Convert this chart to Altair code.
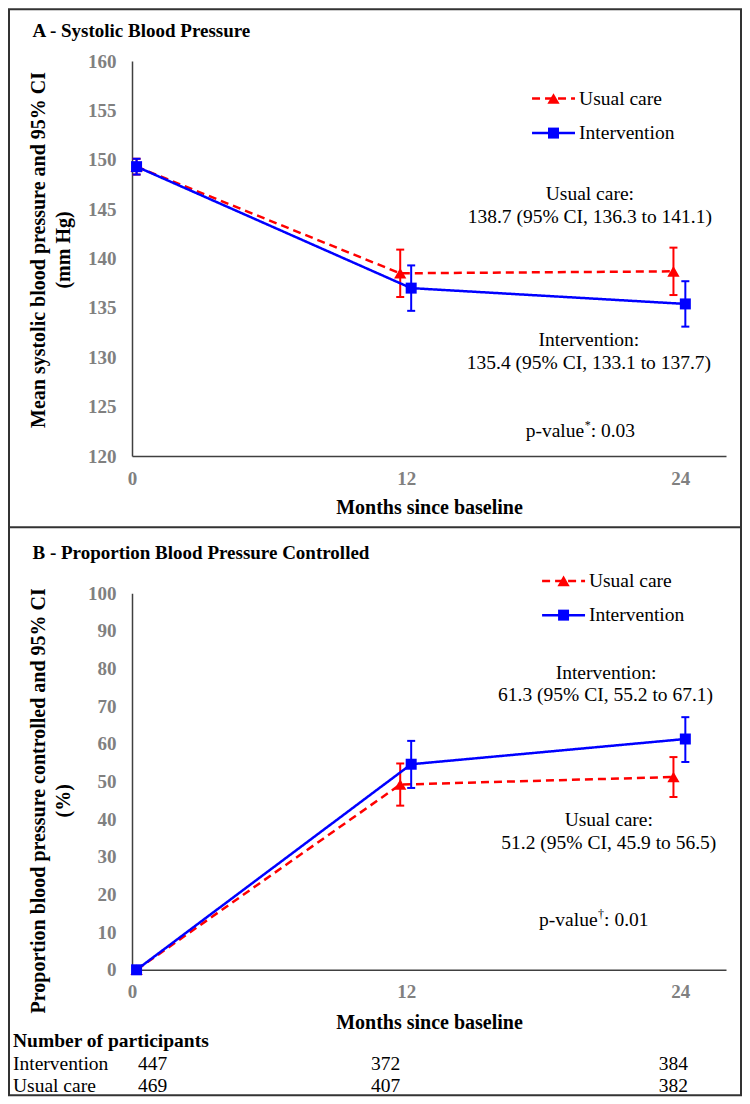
import altair as alt
import pandas as pd

# ---------------- data ----------------
months_uc = [0.2, 11.74, 23.70]
months_iv = [0.2, 12.22, 24.22]

sbp_uc = [149.3, 138.5, 138.7]
sbp_uc_lo = [148.5, 136.1, 136.3]
sbp_uc_hi = [150.1, 140.9, 141.1]
sbp_iv = [149.3, 137.0, 135.4]
sbp_iv_lo = [148.5, 134.7, 133.1]
sbp_iv_hi = [150.1, 139.3, 137.7]

ctl_uc = [0.0, 49.2, 51.2]
ctl_uc_lo = [0.0, 43.6, 45.9]
ctl_uc_hi = [0.0, 54.8, 56.5]
ctl_iv = [0.0, 54.6, 61.3]
ctl_iv_lo = [0.0, 48.3, 55.2]
ctl_iv_hi = [0.0, 60.8, 67.1]

x_ticks = [0, 12, 24]
sbp_ticks = [120, 125, 130, 135, 140, 145, 150, 155, 160]
ctl_ticks = [0, 10, 20, 30, 40, 50, 60, 70, 80, 90, 100]

series_names = ["Usual care", "Intervention"]
n_iv = [447, 372, 384]
n_uc = [469, 407, 382]
n_month = [0.9, 11.1, 23.7]

top_notes = ["Usual care:", "138.7 (95% CI, 136.3 to 141.1)",
             "Intervention:", "135.4 (95% CI, 133.1 to 137.7)"]
bot_notes = ["Intervention:", "61.3 (95% CI, 55.2 to 67.1)",
             "Usual care:", "51.2 (95% CI, 45.9 to 56.5)"]
top_pval = ["p-value", "*", ": 0.03"]
bot_pval = ["p-value", "\u2020", ": 0.01"]

# ---------------- layout / style ----------------
FONT = "Liberation Serif"
RED = "#FF0000"
BLUE = "#0000FF"
GREY = "#808080"
AX = "#404040"
W = 594
H_TOP = 395
H_BOT = 376.5

top_note_pos = [(20.04, 146.5), (20.04, 144.2), (20.0, 131.7), (20.0, 129.4)]
bot_note_pos = [(20.75, 78.8), (20.73, 72.9), (20.87, 39.7), (20.87, 33.6)]
top_pval_pos = (19.79, 122.5)
bot_pval_pos = (20.38, 13.1)
top_legend = dict(x1=17.51, x2=19.39, xm=18.45, xt=19.57, ys=[156.2, 152.7])
bot_legend = dict(x1=17.95, x2=19.83, xm=18.89, xt=20.0, ys=[103.3, 94.2])

one = pd.DataFrame({"k": [0]})


def panel(uc, iv, ydom, yticks, ytitle, title_y, legend, notes, note_pos,
          pval, pval_pos, panel_title, panel_title_y, xtitle_y):
    xscale = alt.Scale(domain=[0, 26], nice=False, zero=False)
    yscale = alt.Scale(domain=ydom, nice=False, zero=False)
    xax = alt.Axis(values=x_ticks, title="Months since baseline", titleFont=FONT,
                   titleFontSize=20, titleFontWeight="bold", titleColor="black",
                   titleY=xtitle_y, titleBaseline="middle", labelFont=FONT,
                   labelFontSize=19, labelFontWeight="bold", labelColor=GREY,
                   labelPadding=13, ticks=False, grid=False, domainColor=AX,
                   domainWidth=1.5, labelFlush=False)
    yax = alt.Axis(values=yticks, title=ytitle, titleFont=FONT, titleFontSize=20,
                   titleFontWeight="bold", titleColor="black", titleX=-94,
                   titleY=title_y, titleAngle=270, titleBaseline="middle",
                   titleAlign="center", titleLineHeight=25, labelFont=FONT,
                   labelFontSize=19, labelFontWeight="bold", labelColor=GREY,
                   labelPadding=16, ticks=False, grid=False, domainColor=AX,
                   domainWidth=1.5)

    def X(f="month"):
        return alt.X(f"{f}:Q", scale=xscale, axis=xax)

    def Y(f="val"):
        return alt.Y(f"{f}:Q", scale=yscale, axis=yax)

    layers = []
    for (months, mean, lo, hi), color, dash, shape, size in [
        (uc, RED, [8, 5], "triangle-up", 150),
        (iv, BLUE, [1, 0], "square", 121),
    ]:
        df = pd.DataFrame({"month": months, "val": mean, "lo": lo, "hi": hi})
        caps = pd.DataFrame({"month": months + months, "val": lo + hi})
        layers.append(alt.Chart(df).mark_line(color=color, strokeWidth=2.5, strokeDash=dash)
                      .encode(x=X(), y=Y()))
        layers.append(alt.Chart(df).mark_rule(color=color, strokeWidth=2)
                      .encode(x=X(), y=Y("lo"), y2="hi:Q"))
        layers.append(alt.Chart(caps).mark_point(shape="M-1,0L1,0", size=64, color=color,
                                                 strokeWidth=2, filled=False, opacity=1)
                      .encode(x=X(), y=Y()))
        layers.append(alt.Chart(df).mark_point(shape=shape, size=size, filled=True,
                                               color=color, opacity=1)
                      .encode(x=X(), y=Y()))

    # legend
    for name, yv, color, dash, shape, size in [
        (series_names[0], legend["ys"][0], RED, [8, 5], "triangle-up", 150),
        (series_names[1], legend["ys"][1], BLUE, [1, 0], "square", 121),
    ]:
        ldf = pd.DataFrame({"x1": [legend["x1"]], "x2": [legend["x2"]], "month": [legend["xm"]],
                            "tx": [legend["xt"]], "val": [yv], "label": [name]})
        layers.append(alt.Chart(ldf).mark_rule(color=color, strokeWidth=2.5, strokeDash=dash)
                      .encode(x=X("x1"), x2="x2:Q", y=Y()))
        layers.append(alt.Chart(ldf).mark_point(shape=shape, size=size, filled=True,
                                                color=color, opacity=1)
                      .encode(x=X(), y=Y()))
        layers.append(alt.Chart(ldf).mark_text(align="left", baseline="middle", font=FONT,
                                               fontSize=19.5, color="black")
                      .encode(x=X("tx"), y=Y(), text="label:N"))

    # annotations
    ndf = pd.DataFrame({"month": [p[0] for p in note_pos], "val": [p[1] for p in note_pos],
                        "label": notes})
    layers.append(alt.Chart(ndf).mark_text(align="center", baseline="middle", font=FONT,
                                           fontSize=19.5, color="black")
                  .encode(x=X(), y=Y(), text="label:N"))

    # p-value with superscript mark
    pdf = pd.DataFrame({"month": [pval_pos[0]], "val": [pval_pos[1]]})
    layers.append(alt.Chart(pdf).mark_text(align="right", baseline="middle", font=FONT,
                                           fontSize=19.5, color="black")
                  .encode(x=X(), y=Y(), text=alt.value(pval[0])))
    layers.append(alt.Chart(pdf).mark_text(align="left", baseline="middle", font=FONT,
                                           fontSize=12, color="black", dx=0.5, dy=-6)
                  .encode(x=X(), y=Y(), text=alt.value(pval[1])))
    layers.append(alt.Chart(pdf).mark_text(align="left", baseline="middle", font=FONT,
                                           fontSize=19.5, color="black", dx=6.5)
                  .encode(x=X(), y=Y(), text=alt.value(pval[2])))

    # panel title
    layers.append(alt.Chart(one).mark_text(align="left", baseline="middle", font=FONT,
                                           fontSize=19, fontWeight="bold", color="black")
                  .encode(x=alt.value(-99.5), y=alt.value(panel_title_y),
                          text=alt.value(panel_title)))
    return layers, X, Y


top_layers, Xt, Yt = panel(
    (months_uc, sbp_uc, sbp_uc_lo, sbp_uc_hi), (months_iv, sbp_iv, sbp_iv_lo, sbp_iv_hi),
    [120, 160], sbp_ticks, ["Mean systolic blood pressure and 95% CI", "(mm Hg)"], 188.5,
    top_legend, top_notes, top_note_pos, top_pval, top_pval_pos,
    "A - Systolic Blood Pressure", -29.7, 51)

# frame and divider
top_layers.append(alt.Chart(one).mark_rect(fillOpacity=0, stroke="#333333", strokeWidth=2)
                  .encode(x=alt.value(-123), x2=alt.value(609), y=alt.value(-51.7),
                          y2=alt.value(1034.3)))
top_layers.append(alt.Chart(one).mark_rule(color="#333333", strokeWidth=2)
                  .encode(x=alt.value(-123), x2=alt.value(609), y=alt.value(466.3)))

bot_layers, Xb, Yb = panel(
    (months_uc, ctl_uc, ctl_uc_lo, ctl_uc_hi), (months_iv, ctl_iv, ctl_iv_lo, ctl_iv_hi),
    [0, 100], ctl_ticks, ["Proportion blood pressure controlled and 95% CI", "(%)"], 207,
    bot_legend, bot_notes, bot_note_pos, bot_pval, bot_pval_pos,
    "B - Proportion Blood Pressure Controlled", -40, 52.5)

# participants table
bot_layers.append(alt.Chart(one).mark_text(align="left", baseline="middle", font=FONT,
                                           fontSize=19.5, fontWeight="bold", color="black")
                  .encode(x=alt.value(-119), y=alt.value(448),
                          text=alt.value("Number of participants")))
for name, counts, ypix in [(series_names[1], n_iv, 471), (series_names[0], n_uc, 493)]:
    bot_layers.append(alt.Chart(one).mark_text(align="left", baseline="middle", font=FONT,
                                               fontSize=19.5, color="black")
                      .encode(x=alt.value(-119), y=alt.value(ypix), text=alt.value(name)))
    cdf = pd.DataFrame({"month": n_month, "n": [str(c) for c in counts]})
    bot_layers.append(alt.Chart(cdf).mark_text(align="center", baseline="middle", font=FONT,
                                               fontSize=19.5, color="black")
                      .encode(x=Xb(), y=alt.value(ypix), text="n:N"))

top = alt.layer(*top_layers).properties(width=W, height=H_TOP)
bottom = alt.layer(*bot_layers).properties(width=W, height=H_BOT)

chart = (alt.vconcat(top, bottom, spacing=137.3, bounds="flush")
         .properties(padding=0)
         .configure_view(stroke=None))

chart.save("out.html", embed_options={"renderer": "svg", "actions": False})
